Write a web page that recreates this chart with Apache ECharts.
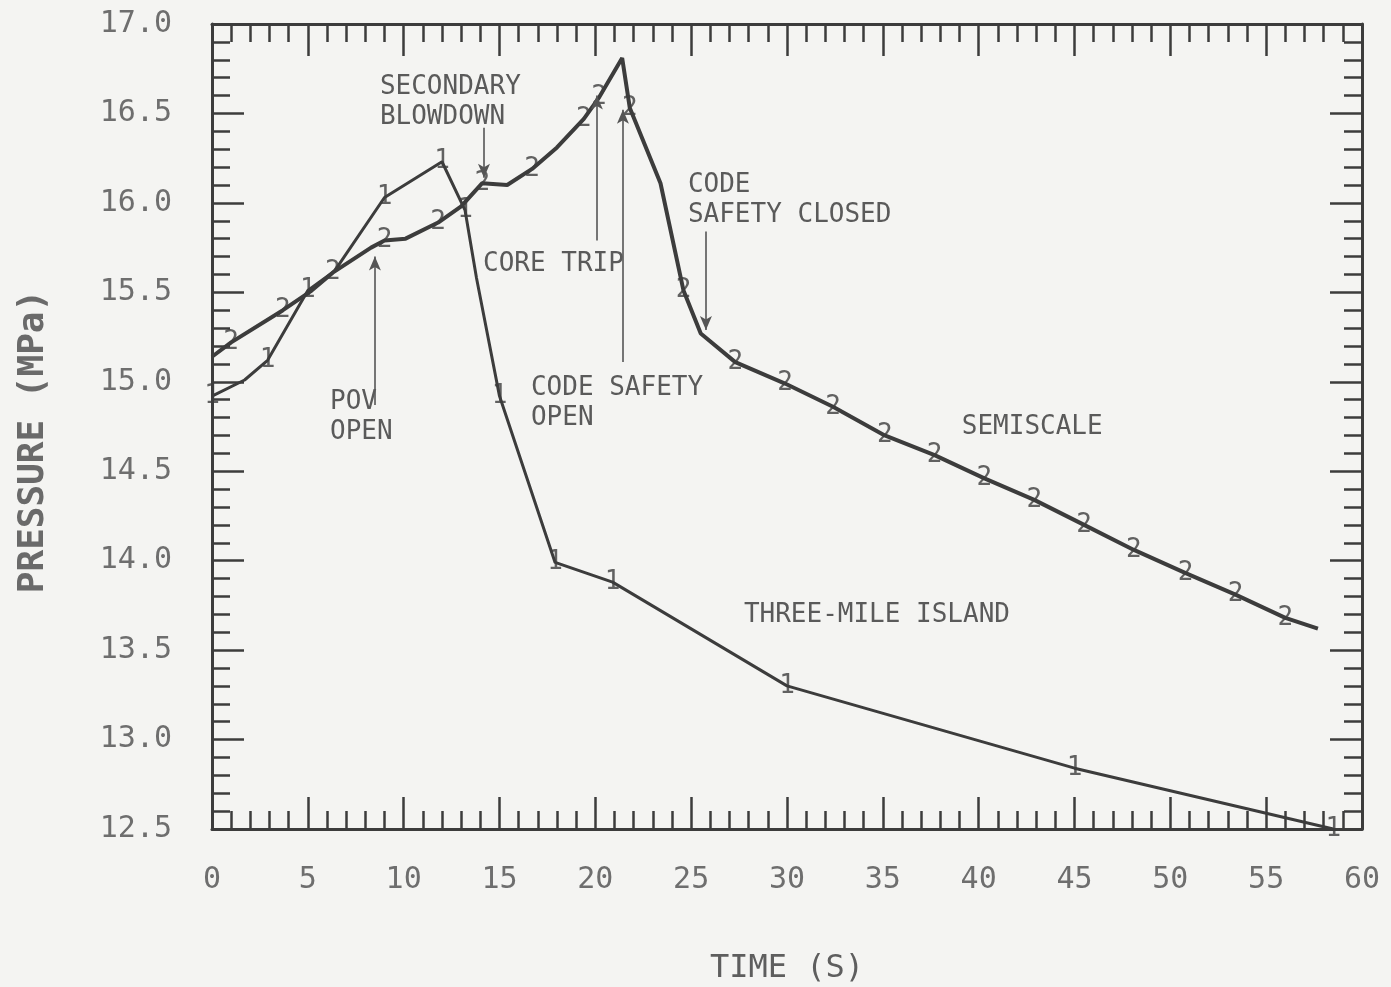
<!DOCTYPE html>
<html>
<head>
<meta charset="utf-8">
<title>Pressure vs Time</title>
<script src="https://cdn.jsdelivr.net/npm/echarts@6/dist/echarts.min.js"></script>
<style>
  html, body { margin: 0; padding: 0; background: #f4f4f2; }
  #chart { width: 1391px; height: 987px; }
</style>
</head>
<body>
<div id="chart"></div>
<script>
// Three-Mile Island plant record (time in s, pressure in MPa)
const tmiTime     = [0, 1.7, 2.9, 5.0, 6.4, 9.0, 12.0, 13.2, 13.8, 15.0, 17.9, 20.9, 30.0, 45.0, 58.5];
const tmiPressure = [14.92, 15.01, 15.12, 15.51, 15.62, 16.03, 16.23, 15.96, 15.58, 14.92, 13.99, 13.88, 13.30, 12.84, 12.50];
const tmiMarked   = [0, 2, 3, 5, 6, 7, 9, 10, 11, 12, 13, 14];

// Semiscale simulation
const semiTime     = [0, 1.0, 3.7, 5.2, 6.3, 8.3, 9.0, 10.1, 11.8, 13.0, 14.1, 15.4, 16.7, 18.0, 19.4, 20.2, 21.4, 21.8, 23.4, 24.6, 25.5, 27.3, 29.9, 32.4, 35.1, 37.7, 40.3, 42.9, 45.5, 48.1, 50.8, 53.4, 56.0, 57.7];
const semiPressure = [15.14, 15.22, 15.40, 15.51, 15.61, 15.75, 15.79, 15.80, 15.89, 15.98, 16.11, 16.10, 16.19, 16.31, 16.47, 16.59, 16.81, 16.53, 16.11, 15.51, 15.27, 15.11, 14.99, 14.86, 14.70, 14.59, 14.46, 14.34, 14.20, 14.06, 13.93, 13.81, 13.68, 13.62];
const semiMarked   = [1, 2, 4, 6, 8, 10, 12, 14, 15, 17, 19, 21, 22, 23, 24, 25, 26, 27, 28, 29, 30, 31, 32];

// Axis ranges
const timeRange = [0, 60, 5];
const pressureRange = [12.5, 17.0, 0.5];

// Event annotations: text anchor (top-left) and pointer line, in data units
const notes = [
  { text: 'SECONDARY\nBLOWDOWN', at: [8.76, 16.73], line: [14.19, 16.42, 16.14] },
  { text: 'POV\nOPEN', at: [6.16, 14.97], line: [8.5, 14.87, 15.70] },
  { text: 'CORE TRIP', at: [14.14, 15.74], line: [20.08, 15.79, 16.60] },
  { text: 'CODE SAFETY\nOPEN', at: [16.64, 15.05], line: [21.44, 15.11, 16.52] },
  { text: 'CODE\nSAFETY CLOSED', at: [24.83, 16.18], line: [25.77, 15.84, 15.29] },
  { text: 'SEMISCALE', at: [39.12, 14.83] },
  { text: 'THREE-MILE ISLAND', at: [27.75, 13.78] }
];

const INK = '#3c3c3c';
const TEXT = '#5a5a5a';
const MONO = '"DejaVu Sans Mono", "Liberation Mono", monospace';

const zip = (xs, ys) => xs.map((x, i) => [x, ys[i]]);
const pick = (xs, ys, idx) => idx.map(i => [xs[i], ys[i]]);

const chart = echarts.init(document.getElementById('chart'), null, { renderer: 'canvas' });

function frameAxis(pos, range, showLabels) {
  return {
    type: 'value',
    position: pos,
    min: range[0], max: range[1], interval: range[2],
    axisLine: { show: true, onZero: false, lineStyle: { color: INK, width: 3 } },
    axisTick: { show: true, inside: true, length: 32, lineStyle: { color: INK, width: 2.5 } },
    minorTick: { show: true, splitNumber: 5, length: 18, lineStyle: { color: INK, width: 2.5 } },
    splitLine: { show: false },
    axisLabel: { show: showLabels, color: '#6e6e6e', fontFamily: MONO, fontSize: 30 }
  };
}

const xBottom = frameAxis('bottom', timeRange, true);
xBottom.axisLabel.margin = 36;
xBottom.name = 'TIME (S)';
xBottom.nameLocation = 'middle';
xBottom.nameGap = 124;
xBottom.nameTextStyle = { color: '#5e5e5e', fontFamily: MONO, fontSize: 32 };

const xTop = frameAxis('top', timeRange, false);

const yLeft = frameAxis('left', pressureRange, true);
yLeft.axisLabel.margin = 40;
yLeft.axisLabel.formatter = v => v.toFixed(1);
yLeft.name = 'PRESSURE (MPa)';
yLeft.nameLocation = 'middle';
yLeft.nameGap = 160;
yLeft.nameTextStyle = { color: '#6a6a6a', fontFamily: MONO, fontSize: 36, fontWeight: 'bold', padding: [0, 30, 0, 0] };

const yRight = frameAxis('right', pressureRange, false);

const markerLabel = glyph => ({
  show: true, position: 'inside', formatter: glyph,
  color: INK, fontFamily: MONO, fontSize: 26
});

const pointerSeries = notes.filter(n => n.line).map(n => ({
  type: 'line', data: [], xAxisIndex: 0, yAxisIndex: 0, silent: true,
  markLine: {
    silent: true, animation: false,
    symbol: ['none', 'arrow'], symbolSize: [9, 14],
    label: { show: false },
    lineStyle: { color: '#555', width: 1.6, type: 'solid' },
    data: [[ { coord: [n.line[0], n.line[1]] }, { coord: [n.line[0], n.line[2]] } ]]
  }
}));

chart.setOption({
  backgroundColor: '#f4f4f2',
  animation: false,
  grid: { left: 212, right: 29, top: 24, bottom: 158, outerBoundsMode: 'none', containLabel: false },
  xAxis: [xBottom, xTop],
  yAxis: [yLeft, yRight],
  series: [
    {
      name: 'THREE-MILE ISLAND', type: 'line', data: zip(tmiTime, tmiPressure),
      showSymbol: false, lineStyle: { color: INK, width: 3 }, z: 3
    },
    {
      name: 'SEMISCALE', type: 'line', data: zip(semiTime, semiPressure),
      showSymbol: false, lineStyle: { color: INK, width: 4 }, z: 3
    },
    {
      type: 'scatter', data: pick(tmiTime, tmiPressure, tmiMarked),
      symbol: 'circle', symbolSize: 2, itemStyle: { color: 'rgba(0,0,0,0)' },
      label: markerLabel('1'), z: 4
    },
    {
      type: 'scatter', data: pick(semiTime, semiPressure, semiMarked),
      symbol: 'circle', symbolSize: 2, itemStyle: { color: 'rgba(0,0,0,0)' },
      label: markerLabel('2'), z: 4
    },
    ...pointerSeries
  ]
});

// Place the event captions at their data positions
const captions = notes.map(n => {
  const p = chart.convertToPixel({ gridIndex: 0 }, n.at);
  return {
    type: 'text', x: p[0], y: p[1], silent: true, z: 10,
    style: {
      text: n.text, fill: TEXT, fontFamily: MONO, fontSize: 26,
      lineHeight: 30, align: 'left', verticalAlign: 'top'
    }
  };
});
chart.setOption({ graphic: captions });
</script>
</body>
</html>
